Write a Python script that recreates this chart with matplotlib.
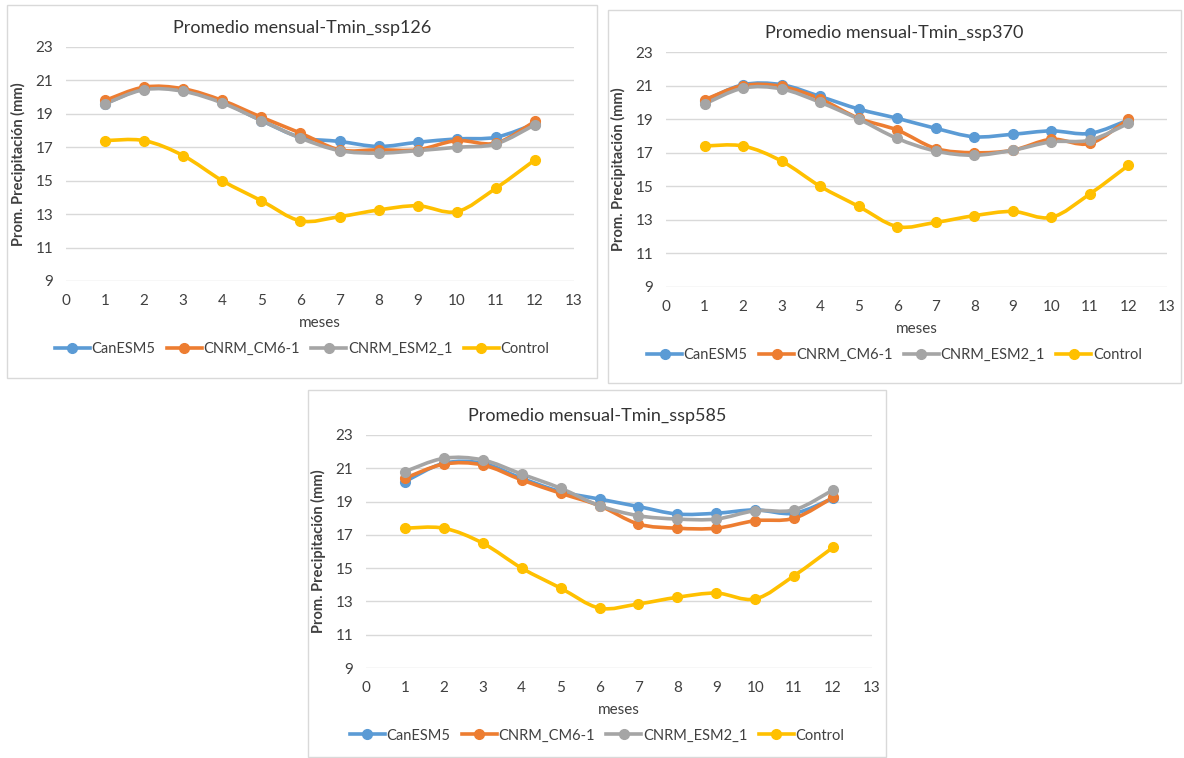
"""Promedio mensual Tmin — three SSP scenarios vs control, Excel-like smoothed lines."""

import matplotlib
matplotlib.use("Agg")
import matplotlib.pyplot as plt
import numpy as np
from matplotlib.patches import PathPatch, Rectangle
from matplotlib.path import Path
from matplotlib.lines import Line2D

plt.rcParams["font.family"] = ["Lato", "DejaVu Sans"]

months = [1, 2, 3, 4, 5, 6, 7, 8, 9, 10, 11, 12]
series_names = ["CanESM5", "CNRM_CM6-1", "CNRM_ESM2_1", "Control"]
colors = ["#5B9BD5", "#ED7D31", "#A5A5A5", "#FFC000"]

control = [17.4, 17.4, 16.5, 15.0, 13.8, 12.6, 12.85, 13.25, 13.5, 13.15, 14.55, 16.25]

ssp126_canesm5 = [19.6, 20.5, 20.4, 19.7, 18.6, 17.6, 17.35, 17.05, 17.3, 17.5, 17.6, 18.4]
ssp126_cm6 = [19.8, 20.6, 20.5, 19.8, 18.8, 17.85, 16.85, 16.85, 16.85, 17.4, 17.25, 18.55]
ssp126_esm2 = [19.6, 20.45, 20.35, 19.65, 18.6, 17.55, 16.8, 16.65, 16.8, 17.0, 17.2, 18.35]

ssp370_canesm5 = [20.1, 21.05, 21.05, 20.35, 19.6, 19.05, 18.45, 17.95, 18.1, 18.3, 18.15, 18.95]
ssp370_cm6 = [20.15, 21.0, 20.95, 20.2, 19.05, 18.35, 17.25, 17.0, 17.15, 17.8, 17.55, 19.0]
ssp370_esm2 = [19.9, 20.85, 20.8, 20.0, 19.0, 17.85, 17.1, 16.85, 17.15, 17.65, 17.75, 18.75]

ssp585_canesm5 = [20.2, 21.3, 21.3, 20.4, 19.6, 19.15, 18.7, 18.25, 18.3, 18.5, 18.3, 19.2]
ssp585_cm6 = [20.4, 21.25, 21.2, 20.3, 19.5, 18.75, 17.65, 17.4, 17.4, 17.85, 18.0, 19.25]
ssp585_esm2 = [20.8, 21.6, 21.5, 20.65, 19.8, 18.75, 18.15, 17.95, 17.95, 18.45, 18.5, 19.7]

panels = [
    ("Promedio mensual-Tmin_ssp126", [ssp126_canesm5, ssp126_cm6, ssp126_esm2, control]),
    ("Promedio mensual-Tmin_ssp370", [ssp370_canesm5, ssp370_cm6, ssp370_esm2, control]),
    ("Promedio mensual-Tmin_ssp585", [ssp585_canesm5, ssp585_cm6, ssp585_esm2, control]),
]

W, H = 1184, 758
# axes rect (px: x0, y_top, x1, y_bottom) and panel frame (px)
axes_px = [(66, 47, 574, 281), (666, 52, 1167, 287), (366, 435, 872, 668)]
frames_px = [(7, 5, 597, 378), (608, 10, 1181, 383), (308, 390, 886, 757)]


def smooth_path(x, y):
    # Excel-style smoothed line: cubic bezier through the data points
    pts = np.column_stack([np.asarray(x, float), np.asarray(y, float)])
    n = len(pts)
    verts = [pts[0]]
    codes = [Path.MOVETO]
    for i in range(n - 1):
        p0 = pts[max(i - 1, 0)]
        p1 = pts[i]
        p2 = pts[i + 1]
        p3 = pts[min(i + 2, n - 1)]
        verts += [p1 + (p2 - p0) / 6.0, p2 - (p3 - p1) / 6.0, p2]
        codes += [Path.CURVE4] * 3
    return Path(verts, codes)


fig = plt.figure(figsize=(W / 100, H / 100), dpi=100)
fig.patch.set_facecolor("white")

for (fx0, fy0, fx1, fy1) in frames_px:
    fig.patches.append(Rectangle((fx0 / W, 1 - fy1 / H), (fx1 - fx0) / W, (fy1 - fy0) / H,
                                 transform=fig.transFigure, fill=False,
                                 edgecolor="#D9D9D9", linewidth=1.0))

for (title, data), (x0, yt, x1, yb), frame in zip(panels, axes_px, frames_px):
    ax = fig.add_axes([x0 / W, 1 - yb / H, (x1 - x0) / W, (yb - yt) / H])
    for vals, color in zip(data, colors):
        ax.add_patch(PathPatch(smooth_path(months, vals), facecolor="none",
                               edgecolor=color, linewidth=2.6, capstyle="round",
                               joinstyle="round", zorder=3))
        ax.plot(months, vals, "o", color=color, markersize=7, zorder=4)

    ax.set_xlim(0, 13)
    ax.set_ylim(9, 23)
    ax.set_xticks(range(0, 14))
    ax.set_yticks(range(9, 24, 2))
    ax.yaxis.grid(True, color="#D9D9D9", linewidth=1.0)
    ax.set_axisbelow(True)
    for s in ax.spines.values():
        s.set_visible(False)
    ax.tick_params(length=0, labelsize=11, labelcolor="#404040", pad=9)

    # title centred on the chart frame, like Excel does
    title_x = ((frame[0] + frame[2]) / 2 - x0) / (x1 - x0)
    ax.set_title(title, fontsize=13, color="#333333", pad=10, x=title_x)
    ax.set_xlabel("meses", fontsize=11, color="#404040", labelpad=6)
    ax.set_ylabel("Prom. Precipitación (mm)", fontsize=10.5, color="#404040",
                  fontweight="bold", labelpad=7)

    handles = [Line2D([], [], color=c, linewidth=2.6, marker="o", markersize=7)
               for c in colors]
    ax.legend(handles, series_names, loc="center", bbox_to_anchor=(title_x, -0.29),
              ncol=4, frameon=False, fontsize=10.5, handlelength=2.4,
              handletextpad=0.1, columnspacing=0.8, labelcolor="#404040")

fig.savefig("out.png", dpi=100)
